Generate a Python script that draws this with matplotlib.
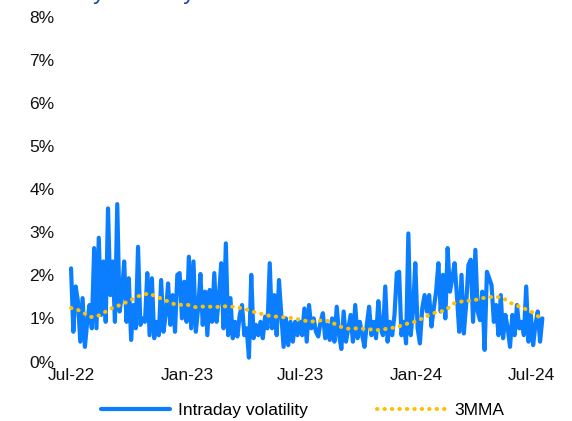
import matplotlib
matplotlib.use("Agg")
import matplotlib.pyplot as plt
import pandas as pd
import numpy as np

plt.rcParams['font.family'] = ['Liberation Sans', 'DejaVu Sans']

# ---- data (percent) ----
title_text = "Intraday volatility"
series_names = ["Intraday volatility", "3MMA"]
start_date = "2022-07-01"
end_date = "2024-07-19"

intraday_vol = [
    2.16, 0.69, 1.74, 1.39, 0.46, 1.47, 0.34, 0.92, 1.31, 0.77, 2.63, 0.77, 2.87, 1.08, 2.32, 0.92,
    3.55, 1.54, 2.32, 0.92, 3.65, 1.16, 1.54, 2.32, 0.92, 1.93, 0.50, 1.31, 0.77, 2.66, 0.85, 1.00,
    0.92, 2.05, 0.61, 1.93, 0.54, 0.92, 0.61, 1.89, 0.69, 1.08, 1.81, 0.85, 1.54, 0.69, 2.01, 2.05,
    1.00, 1.85, 0.92, 2.43, 0.77, 2.32, 0.69, 1.23, 2.03, 0.85, 1.62, 0.61, 1.66, 0.92, 2.05, 0.92,
    1.47, 2.28, 0.77, 2.74, 0.61, 1.47, 0.54, 0.92, 0.58, 1.08, 1.31, 0.61, 0.77, 0.09, 2.01, 0.54,
    0.85, 0.61, 0.92, 0.54, 1.04, 0.77, 2.28, 0.77, 1.54, 0.61, 1.89, 1.08, 0.34, 1.00, 0.38, 0.92,
    0.46, 0.92, 0.61,
    0.92, 0.61, 1.23, 0.46, 1.31, 0.77, 1.00, 0.69, 0.58, 0.92, 1.12, 0.54, 0.85, 0.50, 1.00, 0.46,
    1.27, 0.61, 0.29, 1.16, 0.46, 0.77, 1.08, 0.46, 1.31, 0.54, 0.92, 0.61, 0.34, 0.85, 1.27, 0.61,
    0.92, 0.54, 1.40, 0.77, 0.61, 1.74, 0.46, 0.92, 0.61, 1.08, 2.05, 2.08, 0.61, 0.92, 0.42, 2.97,
    0.61, 1.16, 2.28, 0.77, 0.42, 1.23, 1.54, 1.16, 1.54, 0.81, 1.23, 1.62, 2.28, 1.16, 2.01, 1.00,
    2.63, 1.62, 1.93, 2.28, 1.54, 0.69, 2.01, 0.65, 1.31, 2.24, 2.36, 0.92, 2.59, 1.16, 0.96, 1.62,
    0.27, 2.08, 1.93, 1.77, 0.92, 1.31, 0.61, 1.54, 0.54, 1.08, 0.77, 0.34, 1.08, 0.61, 1.31, 0.77,
    0.92, 0.61, 1.74, 0.46, 1.08, 0.38, 0.85, 1.16, 0.46, 1.00,
]

mma_dates = [
    "2022-07-01", "2022-07-15", "2022-08-01", "2022-08-15", "2022-09-01", "2022-09-15",
    "2022-10-01", "2022-10-15", "2022-11-01", "2022-11-15", "2022-12-01", "2022-12-15",
    "2023-01-01", "2023-01-15", "2023-02-01", "2023-02-15", "2023-03-01", "2023-03-15",
    "2023-04-01", "2023-04-15", "2023-05-01", "2023-05-15", "2023-06-01", "2023-06-15",
    "2023-07-01", "2023-07-15", "2023-08-01", "2023-08-15", "2023-09-01", "2023-09-15",
    "2023-10-01", "2023-10-15", "2023-11-01", "2023-11-15", "2023-12-01", "2023-12-15",
    "2024-01-01", "2024-01-15", "2024-02-01", "2024-02-15", "2024-03-01", "2024-03-15",
    "2024-04-01", "2024-04-15", "2024-05-01", "2024-05-15", "2024-06-01", "2024-06-15",
    "2024-07-01", "2024-07-15", "2024-07-19",
]
mma_values = [
    1.24, 1.18, 1.03, 1.07, 1.22, 1.30, 1.40, 1.51, 1.58, 1.50, 1.40, 1.31,
    1.32, 1.26, 1.28, 1.26, 1.28, 1.27, 1.23, 1.16, 1.10, 1.05, 1.03, 1.01,
    0.97, 0.92, 0.95, 0.94, 0.81, 0.76, 0.77, 0.75, 0.73, 0.76, 0.80, 0.87,
    0.93, 1.04, 1.14, 1.18, 1.35, 1.40, 1.42, 1.47, 1.50, 1.49, 1.34, 1.26,
    1.16, 1.02, 0.99,
]

y_ticks = [0, 1, 2, 3, 4, 5, 6, 7, 8]
x_tick_dates = ["2022-07-01", "2023-01-01", "2023-07-01", "2024-01-01", "2024-07-01"]
x_tick_labels = ["Jul-22", "Jan-23", "Jul-23", "Jan-24", "Jul-24"]

# ---- plot ----
vol_dates = pd.date_range(start_date, end_date, periods=len(intraday_vol))
mma_dt = pd.to_datetime(mma_dates)

fig = plt.figure(figsize=(5.72, 4.21), dpi=100)
ax = fig.add_axes([0.1121, 0.1413, 0.8493, 0.8195])

blue = '#0B7EFF'
gold = '#FFC000'

ax.plot(vol_dates, np.array(intraday_vol) / 100, color=blue, lw=3.0,
        solid_joinstyle='round', solid_capstyle='round', label=series_names[0], zorder=2)
ax.plot(mma_dt, np.array(mma_values) / 100, color=gold, lw=2.9,
        linestyle=(0, (0.1, 1.75)), dash_capstyle='round', label=series_names[1], zorder=3)

ax.set_xlim(pd.Timestamp("2022-06-20"), pd.Timestamp("2024-07-31"))
ax.set_ylim(0, 0.08)
ax.set_yticks([v / 100 for v in y_ticks])
ax.set_yticklabels([f"{v}%" for v in y_ticks])
ax.set_xticks(pd.to_datetime(x_tick_dates))
ax.set_xticklabels(x_tick_labels)

for s in ax.spines.values():
    s.set_visible(False)
ax.tick_params(axis='both', length=0, labelsize=12.5, colors='#111111')
ax.tick_params(axis='y', pad=7)
ax.tick_params(axis='x', pad=5)

fig.legend(loc='center', bbox_to_anchor=(302.5 / 572, 0.026), ncol=2, frameon=False,
           fontsize=12.5, handlelength=4.0, handletextpad=0.45, columnspacing=4.0)

fig.text(20 / 572, 1 + 1 / 421, title_text, color='#1F45A8', fontsize=16.8,
         ha='left', va='baseline')

fig.savefig("out.png", dpi=100)
